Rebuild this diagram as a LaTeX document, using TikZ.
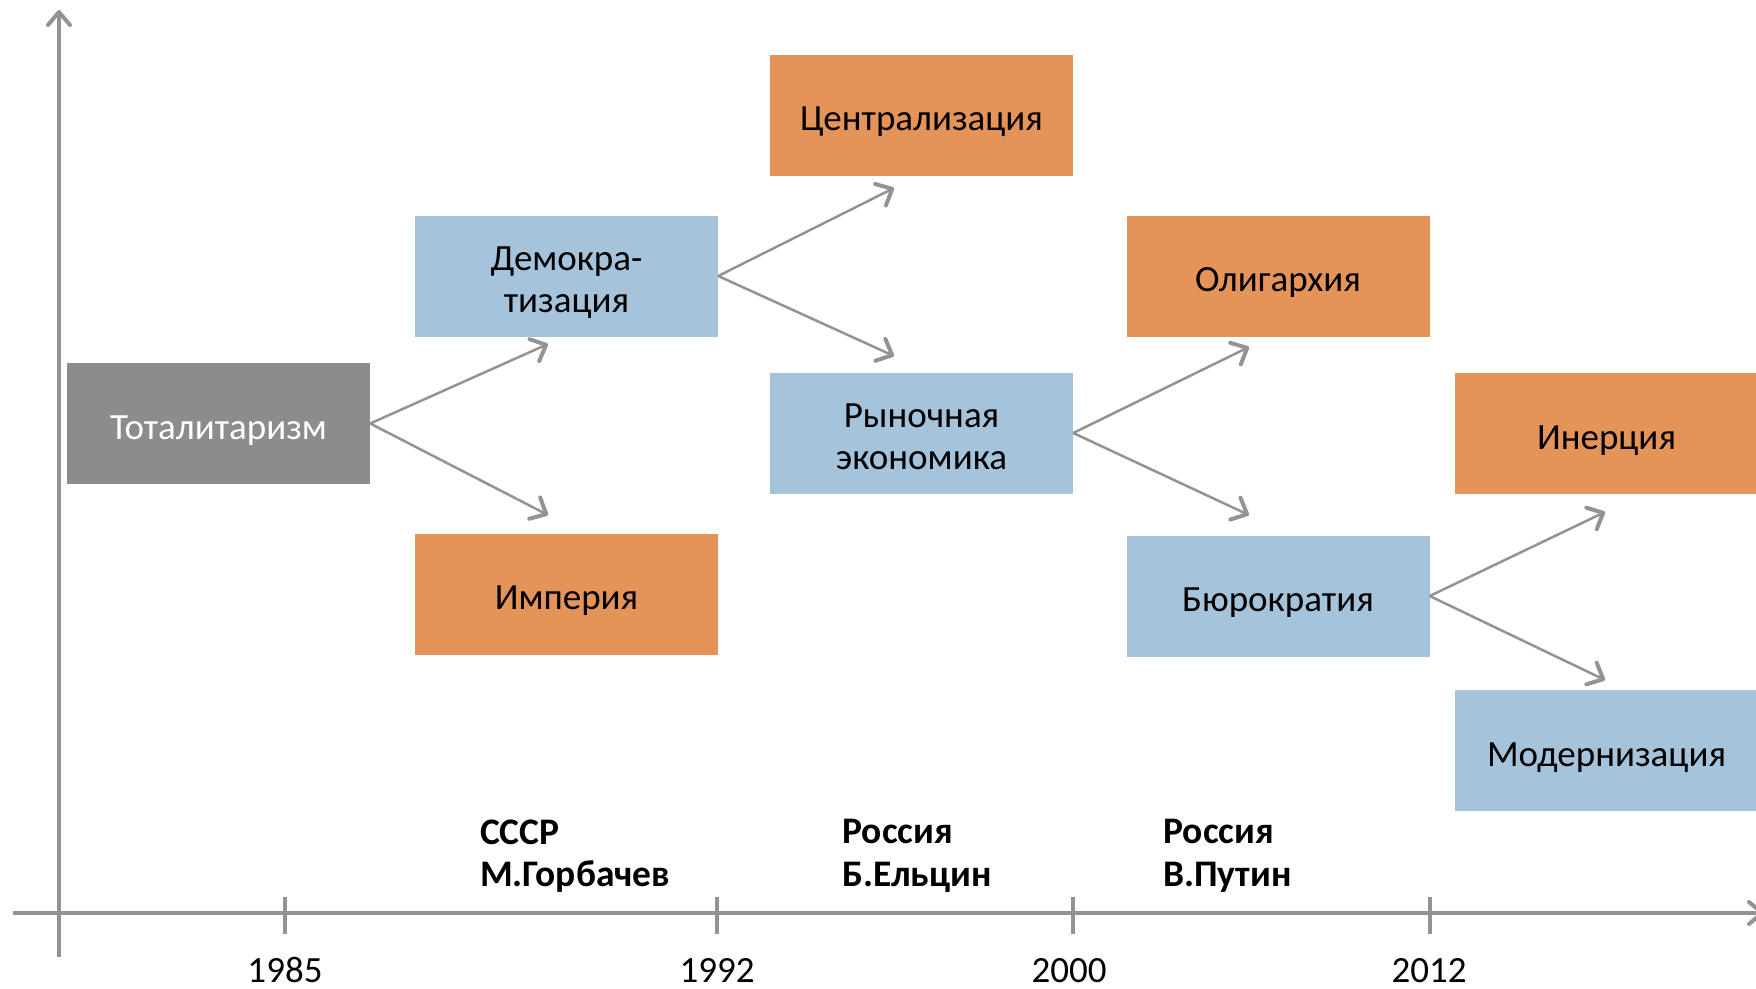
\documentclass[tikz,border=0pt]{standalone}
\usepackage{fontspec}
\setmainfont{Carlito}
\usetikzlibrary{arrows.meta}
\definecolor{boxgray}{HTML}{8C8C8C}
\definecolor{boxorange}{HTML}{E59459}
\definecolor{boxblue}{HTML}{A5C3DB}
\definecolor{axisgray}{HTML}{939393}
\newcommand{\bxtext}[1]{\raisebox{-7pt}[\height][\depth]{\begin{tabular}{@{}c@{}}#1\end{tabular}}}
\begin{document}
\begin{tikzpicture}[x=1pt,y=-1pt,
  box/.style={minimum width=303pt,minimum height=121pt,inner sep=0pt,align=center,
    font=\fontsize{37}{42.5}\selectfont},
  graybox/.style={box,fill=boxgray,text=white},
  orangebox/.style={box,fill=boxorange},
  bluebox/.style={box,fill=boxblue},
  axis/.style={draw=axisgray,line width=4pt},
  tick/.style={draw=axisgray,line width=4pt},
  conn/.style={draw=axisgray,line width=2.5pt,
    -{Straight Barb[length=13pt,width=24pt,line width=4pt,round]}},
  axarrow/.style={-{Straight Barb[length=13pt,width=22pt,line width=4pt,round]}},
  year/.style={font=\fontsize{37}{42}\selectfont,inner sep=0pt,text depth=0pt,anchor=base},
  ruler/.style={font=\bfseries\fontsize{37.5}{42.5}\selectfont,align=left,inner sep=0pt,anchor=west}]
\useasboundingbox (0,0) rectangle (1756,988);
% axes
\coordinate (vb) at (59,957);
\coordinate (vt) at (59,10);
\coordinate (hl) at (13,913);
\coordinate (hr) at (1764,913);
\draw[axis,axarrow] (vb) -- (vt);
\draw[axis,axarrow] (hl) -- (hr);
% ticks
\foreach \x/\n in {285/a,717/b,1073/c,1430/d}{
  \coordinate (tt\n) at (\x,897);
  \coordinate (tb\n) at (\x,934);
  \draw[tick] (tt\n) -- (tb\n);
}
\node[year] (y1) at (285,982) {1985};
\node[year] (y2) at (717,982) {1992};
\node[year] (y3) at (1069,982) {2000};
\node[year] (y4) at (1429,982) {2012};
% rulers
\node[ruler] (r1) at (480,856) {СССР\\М.Горбачев};
\node[ruler] (r2) at (842,856) {Россия\\Б.Ельцин};
\node[ruler] (r3) at (1163,856) {Россия\\В.Путин};
% boxes
\node[graybox] (tot) at (218.5,423.5) {\bxtext{Тоталитаризм}};
\node[bluebox] (dem) at (566.5,276) {\bxtext{Демокра-\\тизация}};
\node[orangebox] (imp) at (566.5,594) {\bxtext{Империя}};
\node[orangebox] (cen) at (921.5,115) {\bxtext{Централизация}};
\node[bluebox] (ryn) at (921.5,433) {\bxtext{Рыночная\\экономика}};
\node[orangebox] (oli) at (1278,276) {\bxtext{Олигархия}};
\node[bluebox] (bur) at (1278,596) {\bxtext{Бюрократия}};
\node[orangebox] (ine) at (1606.5,433.5) {\bxtext{Инерция}};
\node[bluebox] (mod) at (1606.5,750.5) {\bxtext{Модернизация}};
% arrow tips
\coordinate (a1) at (548,344);
\coordinate (a2) at (548,515);
\coordinate (b1) at (894,188);
\coordinate (b2) at (894,356);
\coordinate (c1) at (1249,347);
\coordinate (c2) at (1249,515);
\coordinate (d1) at (1605,512);
\coordinate (d2) at (1605,680);
\draw[conn] (tot.east) -- (a1);
\draw[conn] (tot.east) -- (a2);
\draw[conn] (dem.east) -- (b1);
\draw[conn] (dem.east) -- (b2);
\draw[conn] (ryn.east) -- (c1);
\draw[conn] (ryn.east) -- (c2);
\draw[conn] (bur.east) -- (d1);
\draw[conn] (bur.east) -- (d2);
\end{tikzpicture}
\end{document}
